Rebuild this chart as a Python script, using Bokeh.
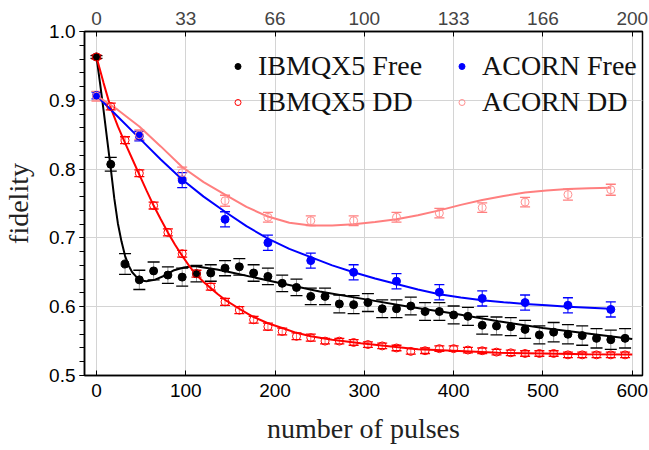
from bokeh.plotting import figure
from bokeh.models import (Range1d, LinearAxis, FixedTicker, Legend, LegendItem,
                          Whisker, TeeHead, ColumnDataSource)
from bokeh.embed import file_html
from bokeh.resources import INLINE

# ---------------- data ----------------
ibm_x = [0, 16, 32, 48, 64, 80, 96, 112, 128, 144, 160, 176, 192, 208, 224, 240, 256, 272, 288,
         304, 320, 336, 352, 368, 384, 400, 416, 432, 448, 464, 480, 496, 512, 528, 544, 560, 576, 592]
ibm_free = [0.963, 0.807, 0.662, 0.639, 0.652, 0.646, 0.643, 0.648, 0.649, 0.656, 0.658, 0.649, 0.644,
            0.634, 0.628, 0.615, 0.615, 0.604, 0.603, 0.606, 0.597, 0.597, 0.601, 0.593, 0.593, 0.588,
            0.586, 0.573, 0.572, 0.571, 0.567, 0.559, 0.563, 0.560, 0.558, 0.554, 0.552, 0.554]
ibm_free_err = [0.002, 0.010, 0.015, 0.014, 0.013, 0.012, 0.013, 0.012, 0.012, 0.011, 0.012, 0.012, 0.012,
                0.012, 0.012, 0.012, 0.012, 0.013, 0.013, 0.013, 0.013, 0.013, 0.013, 0.013, 0.013, 0.013,
                0.013, 0.013, 0.013, 0.013, 0.013, 0.013, 0.014, 0.014, 0.014, 0.014, 0.014, 0.014]
ibm_dd = [0.963, 0.891, 0.842, 0.794, 0.747, 0.708, 0.677, 0.648, 0.629, 0.607, 0.595, 0.581, 0.571,
          0.564, 0.557, 0.555, 0.550, 0.550, 0.548, 0.545, 0.543, 0.540, 0.535, 0.536, 0.539, 0.539,
          0.537, 0.536, 0.534, 0.533, 0.532, 0.532, 0.532, 0.530, 0.530, 0.530, 0.530, 0.530]
ibm_dd_err = [0.003, 0.005, 0.005, 0.005, 0.005, 0.005, 0.005, 0.005, 0.005, 0.005, 0.005, 0.005, 0.005,
              0.005, 0.005, 0.005, 0.004, 0.004, 0.004, 0.004, 0.004, 0.004, 0.004, 0.004, 0.004, 0.004,
              0.004, 0.004, 0.004, 0.004, 0.004, 0.004, 0.004, 0.004, 0.004, 0.004, 0.004, 0.004]

acorn_x = [0, 48, 96, 144, 192, 240, 288, 336, 384, 432, 480, 528, 576]
acorn_free = [0.907, 0.848, 0.784, 0.727, 0.693, 0.667, 0.650, 0.637, 0.621, 0.612, 0.606, 0.602, 0.596]
acorn_free_err = [0.005, 0.007, 0.011, 0.011, 0.011, 0.011, 0.011, 0.011, 0.011, 0.011, 0.011, 0.011, 0.011]
acorn_dd = [0.906, 0.850, 0.795, 0.754, 0.730, 0.725, 0.725, 0.730, 0.736, 0.744, 0.752, 0.763, 0.770]
acorn_dd_err = [0.007, 0.007, 0.008, 0.008, 0.007, 0.007, 0.007, 0.007, 0.007, 0.007, 0.007, 0.008, 0.008]

# fit curves
fit_free_x = [0, 4, 8, 12, 16, 20, 24, 28, 32, 36, 40, 45, 50, 56, 65, 76, 87, 98, 110, 120, 135, 150,
              175, 200, 250, 300, 350, 400, 450, 500, 550, 600]
fit_free_y = [0.963, 0.925, 0.885, 0.843, 0.801, 0.757, 0.721, 0.695, 0.674, 0.660, 0.650, 0.643, 0.638,
              0.637, 0.639, 0.645, 0.653, 0.657, 0.659, 0.657, 0.654, 0.650, 0.643, 0.636, 0.622, 0.611,
              0.600, 0.590, 0.579, 0.569, 0.561, 0.553]
fit_dd_x = [0, 8, 16, 24, 32, 40, 48, 56, 64, 72, 80, 88, 96, 104, 112, 120, 128, 136, 144, 160, 176,
            192, 208, 224, 240, 264, 296, 330, 360, 400, 450, 500, 550, 600]
fit_dd_y = [0.963, 0.925, 0.889, 0.862, 0.838, 0.815, 0.792, 0.769, 0.747, 0.727, 0.708, 0.690, 0.674,
            0.659, 0.646, 0.636, 0.627, 0.618, 0.610, 0.597, 0.585, 0.576, 0.569, 0.562, 0.557, 0.552,
            0.547, 0.542, 0.538, 0.536, 0.533, 0.532, 0.531, 0.5305]
fit_acorn_x = [0, 24, 48, 72, 96, 120, 144, 168, 192, 216, 240, 264, 288, 312, 336, 360, 384, 408, 432,
               456, 480, 504, 528, 552, 576]
fit_acorn_free_y = [0.907, 0.876, 0.845, 0.814, 0.785, 0.760, 0.738, 0.717, 0.699, 0.684, 0.672, 0.660,
                    0.650, 0.641, 0.633, 0.625, 0.618, 0.6135, 0.6095, 0.6065, 0.604, 0.602, 0.600,
                    0.5985, 0.597]
fit_acorn_dd_y = [0.907, 0.886, 0.862, 0.833, 0.803, 0.781, 0.763, 0.745, 0.731, 0.722, 0.718, 0.718,
                  0.720, 0.723, 0.727, 0.733, 0.740, 0.748, 0.755, 0.761, 0.766, 0.769, 0.771, 0.772,
                  0.773]

bottom_ticks = [0, 100, 200, 300, 400, 500, 600]
top_tick_labels = ["0", "33", "66", "100", "133", "166", "200"]
y_ticks = [0.5, 0.6, 0.7, 0.8, 0.9, 1.0]
y_tick_labels = ["0.5", "0.6", "0.7", "0.8", "0.9", "1.0"]
labels = ["IBMQX5 Free", "IBMQX5 DD", "ACORN Free", "ACORN DD"]

# ---------------- styles ----------------
SERIF = "Liberation Serif"
SANS = "Liberation Sans"
BLACK, RED, BLUE, PINK = "#000000", "#ff0000", "#0000ff", "#ff7f7f"

p = figure(width=649, height=450, output_backend="svg", toolbar_location=None,
           x_range=Range1d(-13.4, 611.5), y_range=Range1d(0.5, 1.0),
           min_border_left=82, min_border_top=31, min_border_right=7, min_border_bottom=75)
p.background_fill_color = "white"
p.outline_line_color = "black"
p.outline_line_width = 1.5

# axes
xa = p.xaxis[0]
xa.ticker = FixedTicker(ticks=bottom_ticks)
ya = p.yaxis[0]
ya.ticker = FixedTicker(ticks=y_ticks, minor_ticks=[0.5 + 0.02 * i for i in range(26)])
ya.major_label_overrides = {t: l for t, l in zip(y_ticks, y_tick_labels)}
for ax in (xa, ya):
    ax.major_label_text_font = SANS
    ax.major_label_text_font_size = "19px"
    ax.major_label_text_color = "black"
    ax.axis_line_width = 1.5
    ax.axis_label_text_font = SERIF
    ax.axis_label_text_font_size = "28px"
    ax.axis_label_text_font_style = "normal"
    ax.axis_label_text_color = "#222222"
xa.axis_label = "number of pulses"
xa.major_tick_in = 5
xa.major_tick_out = 0
xa.minor_tick_line_color = None
xa.major_label_standoff = 8
xa.axis_label_standoff = 13
ya.axis_label = "fidelity"
ya.major_tick_in = 0
ya.major_tick_out = 5
ya.minor_tick_in = 0
ya.minor_tick_out = 5
ya.major_label_standoff = 4
ya.axis_label_standoff = 12

top = LinearAxis(ticker=FixedTicker(ticks=bottom_ticks),
                 major_label_overrides={t: l for t, l in zip(bottom_ticks, top_tick_labels)})
top.major_label_text_font = SANS
top.major_label_text_font_size = "19px"
top.major_tick_in = 5
top.major_tick_out = 0
top.minor_tick_line_color = None
top.major_label_standoff = 7
top.axis_line_width = 1.5
p.add_layout(top, "above")

p.xgrid.ticker = FixedTicker(ticks=bottom_ticks)
p.ygrid.ticker = FixedTicker(ticks=y_ticks)
p.grid.grid_line_color = "#d4d4d4"
p.grid.grid_line_width = 1

# fit curves
p.line(fit_free_x, fit_free_y, line_color=BLACK, line_width=2)
p.line(fit_dd_x, fit_dd_y, line_color=RED, line_width=2)
p.line(fit_acorn_x, fit_acorn_free_y, line_color=BLUE, line_width=2)
p.line(fit_acorn_x, fit_acorn_dd_y, line_color=PINK, line_width=2)


def errbars(xs, ys, es, stem, head, size):
    src = ColumnDataSource(dict(x=xs, lo=[y - e for y, e in zip(ys, es)],
                                hi=[y + e for y, e in zip(ys, es)]))
    w = Whisker(source=src, base="x", lower="lo", upper="hi", dimension="height",
                line_color=stem, line_width=1,
                upper_head=TeeHead(size=size, line_color=head, line_width=1.3),
                lower_head=TeeHead(size=size, line_color=head, line_width=1.3))
    p.add_layout(w)


errbars(ibm_x, ibm_free, ibm_free_err, "#9a9a9a", BLACK, 12)
errbars(ibm_x, ibm_dd, ibm_dd_err, "#ff7070", RED, 10)
errbars(acorn_x, acorn_free, acorn_free_err, BLUE, BLUE, 10)
errbars(acorn_x, acorn_dd, acorn_dd_err, "#ffa0a0", PINK, 10)

r1 = p.scatter(ibm_x, ibm_free, size=8, fill_color=BLACK, line_color=BLACK)
r2 = p.scatter(ibm_x, ibm_dd, size=8, fill_color=None, line_color=RED, line_width=1)
r3 = p.scatter(acorn_x, acorn_free, size=8, fill_color=BLUE, line_color=BLUE)
r4 = p.scatter(acorn_x, acorn_dd, size=8, fill_color=None, line_color="#ff9090", line_width=1)


def make_legend(items, loc):
    lg = Legend(items=items, location=loc, orientation="vertical",
                label_text_font=SERIF, label_text_font_size="28px",
                label_text_color="#111111",
                glyph_width=15, glyph_height=20, label_height=20, label_standoff=13,
                spacing=4, padding=0, margin=0,
                border_line_color=None, background_fill_alpha=0)
    p.add_layout(lg)


make_legend([LegendItem(label=labels[0], renderers=[r1]),
             LegendItem(label=labels[1], renderers=[r2])], (146, 257))
make_legend([LegendItem(label=labels[2], renderers=[r3]),
             LegendItem(label=labels[3], renderers=[r4])], (370, 257))

open("out.html", "w").write(file_html(p, INLINE))
